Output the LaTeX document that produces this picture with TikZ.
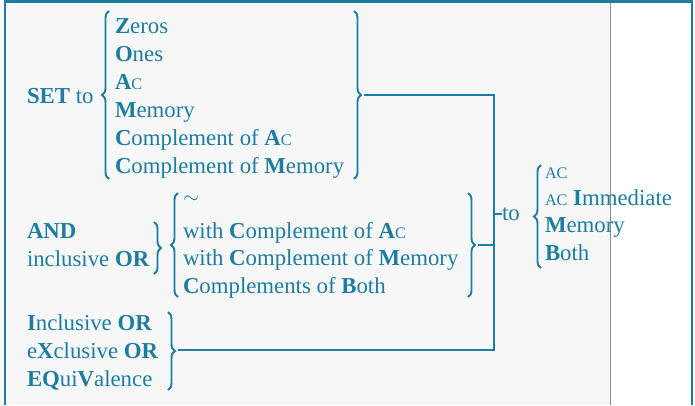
\documentclass[tikz,border=0pt]{standalone}
\usepackage{fontspec}
\setmainfont{Liberation Serif}
\usetikzlibrary{decorations.pathreplacing}
\definecolor{ink}{RGB}{28,125,160}
\newcommand{\smc}[1]{{\fontsize{16.2}{17}\selectfont #1}}
\newcommand{\bb}[1]{\textbf{#1}}
\tikzset{
  txt/.style={anchor=base west, inner sep=0pt, outer sep=0pt, text=ink, font=\fontsize{22.8}{25}\selectfont},
  brc/.style={draw=ink, line width=1.9pt, decorate, decoration={brace, amplitude=7pt}},
  conn/.style={draw=ink, line width=1.6pt},
  frame/.style={draw=ink, line width=2.2pt}
}
\begin{document}
\begin{tikzpicture}[x=1pt,y=1pt]
\useasboundingbox (0,0) rectangle (695,-405);
\fill[black!3] (0,0) rectangle (610,-405);
\draw[black!45, line width=0.9pt] (610,0) -- (610,-405);
\draw[frame] (5,-405) -- (5,-1.5) -- (692,-1.5) -- (692,-405);

% SET group
\node[txt] (set) at (27,-103) {\bb{SET} to};
\node[txt] (s1) at (115,-33) {\bb{Z}eros};
\node[txt] (s2) at (115,-61) {\bb{O}nes};
\node[txt] (s3) at (115,-89) {\bb{A}\smc{C}};
\node[txt] (s4) at (115,-117) {\bb{M}emory};
\node[txt] (s5) at (115,-145) {\bb{C}omplement of \bb{A}\smc{C}};
\node[txt] (s6) at (115,-173) {\bb{C}omplement of \bb{M}emory};
\draw[brc] (109,-179) -- (109,-11);
\draw[brc] (354,-11) -- (354,-179);
\coordinate (setTip) at (364,-95);

% AND / OR group
\node[txt] (and) at (27,-238) {\bb{AND}};
\node[txt] (ior) at (27,-266) {inclusive \bb{OR}};
\draw[brc] (154,-222) -- (154,-274);
\node[txt] (m0) at (183,-203) {$\sim$};
\node[txt] (m1) at (183,-238) {with \bb{C}omplement of \bb{A}\smc{C}};
\node[txt] (m2) at (183,-265) {with \bb{C}omplement of \bb{M}emory};
\node[txt] (m3) at (183,-293) {\bb{C}omplements of \bb{B}oth};
\draw[brc] (178,-297) -- (178,-193);
\draw[brc] (468,-193) -- (468,-297);
\coordinate (andTip) at (478,-245);

% IOR / XOR / EQV group
\node[txt] (i1) at (27,-330) {\bb{I}nclusive \bb{OR}};
\node[txt] (i2) at (27,-358) {e\bb{X}clusive \bb{OR}};
\node[txt] (i3) at (27,-386) {\bb{EQ}ui\bb{V}alence};
\draw[brc] (168,-312) -- (168,-390);
\coordinate (iorTip) at (178,-350);

% junction
\coordinate (jTop) at (494,-95);
\coordinate (jBot) at (494,-350);
\coordinate (jMid) at (494,-245);
\coordinate (jTo) at (494,-214);
\draw[conn] (setTip) -- (jTop) -- (jBot) -- (iorTip);
\draw[conn] (andTip) -- (jMid);

% destination
\node[txt] (to) at (502,-220) {to};
\draw[conn] (jTo) -- (to.west |- jTo);
\draw[brc] (541,-268) -- (541,-165);
\node[txt] (d1) at (545,-178) {\smc{AC}};
\node[txt] (d2) at (545,-205) {\smc{AC} \bb{I}mmediate};
\node[txt] (d3) at (545,-232) {\bb{M}emory};
\node[txt] (d4) at (545,-260) {\bb{B}oth};
\end{tikzpicture}
\end{document}
